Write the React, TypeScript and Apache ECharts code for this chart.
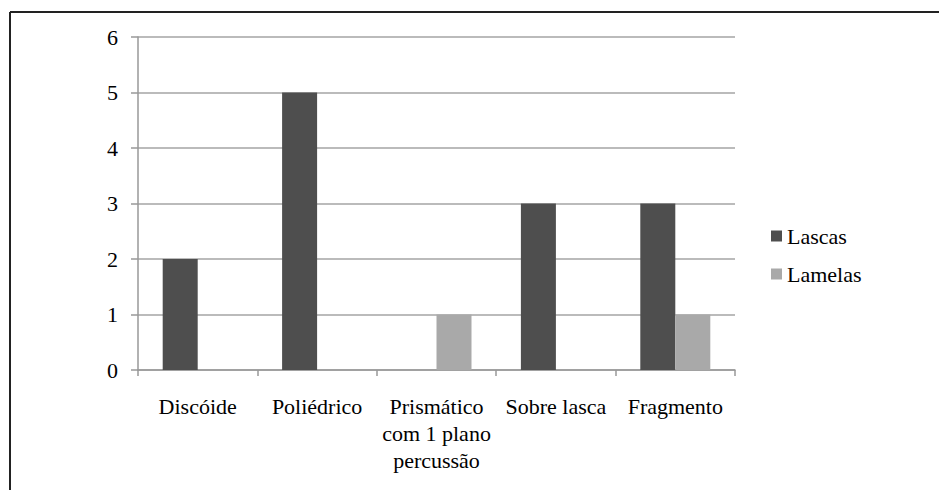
import React, { useEffect, useRef } from "react";
import * as echarts from "echarts";

const categories = ["Discóide", "Poliédrico", "Prismático\ncom 1 plano\npercussão", "Sobre lasca", "Fragmento"];
const lascas = [2, 5, 0, 3, 3];
const lamelas = [0, 0, 1, 0, 1];
const seriesNames = ["Lascas", "Lamelas"];

const FONT = "Liberation Serif";

export default function App() {
  const ref = useRef<HTMLDivElement>(null);
  useEffect(() => {
    if (!ref.current) return;
    const chart = echarts.init(ref.current, undefined, { renderer: "svg" });
    chart.setOption({
      animation: false,
      backgroundColor: "#ffffff",
      textStyle: { fontFamily: FONT },
      graphic: [
        { type: "line", shape: { x1: 2, y1: 4, x2: 939, y2: 4 }, style: { stroke: "#222", lineWidth: 2 } },
        { type: "line", shape: { x1: 2, y1: 4, x2: 2, y2: 482 }, style: { stroke: "#222", lineWidth: 2 } },
      ],
      grid: { left: 130, right: 212, top: 29, bottom: 120 },
      legend: {
        orient: "vertical",
        left: 763,
        top: 217,
        padding: 0,
        itemWidth: 11,
        itemHeight: 11,
        itemGap: 16,
        icon: "rect",
        textStyle: { fontFamily: FONT, fontSize: 22, color: "#000", lineHeight: 22, padding: [0, 0, 0, 0] },
        data: seriesNames,
      },
      xAxis: {
        type: "category",
        data: categories,
        axisLine: { lineStyle: { color: "#999", width: 1.5 } },
        axisTick: { show: true, length: 6, interval: 0, lineStyle: { color: "#999", width: 1.5 } },
        axisLabel: {
          interval: 0,
          margin: 23,
          fontFamily: FONT,
          fontSize: 22,
          lineHeight: 27,
          color: "#000",
        },
      },
      yAxis: {
        type: "value",
        min: 0,
        max: 6,
        interval: 1,
        axisLine: { show: true, lineStyle: { color: "#999", width: 1.5 } },
        axisTick: { show: true, length: 7, lineStyle: { color: "#999", width: 1.5 } },
        splitLine: { lineStyle: { color: "#a5a5a5", width: 1.5 } },
        axisLabel: { margin: 20, fontFamily: FONT, fontSize: 22, color: "#000" },
      },
      series: [
        {
          name: seriesNames[0],
          type: "bar",
          data: lascas,
          barWidth: 35,
          barGap: "0%",
          itemStyle: { color: "#4e4e4e" },
        },
        {
          name: seriesNames[1],
          type: "bar",
          data: lamelas,
          barWidth: 35,
          barGap: "0%",
          itemStyle: { color: "#a9a9a9" },
        },
      ],
    });
    return () => chart.dispose();
  }, []);
  return <div ref={ref} style={{ width: 939, height: 482 }} />;
}
